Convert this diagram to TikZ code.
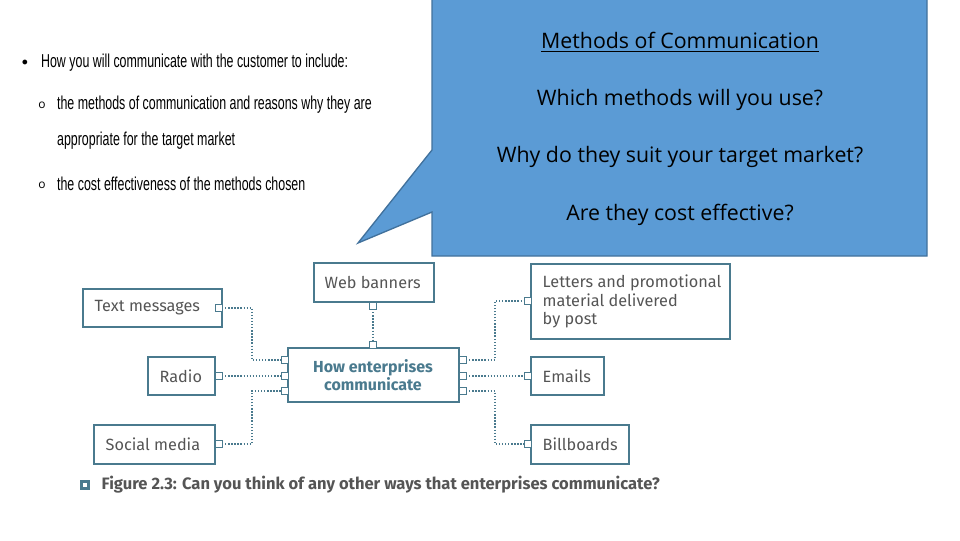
\documentclass[tikz,border=0pt]{standalone}
\usepackage{fontspec}
\setmainfont{Open Sans}
\newfontfamily\figfont{Fira Sans}
\newfontfamily\narrowfont{Liberation Sans}
\begin{document}
\begin{tikzpicture}[x=0.75pt,y=-0.75pt,
  bx/.style={draw=teal1,line width=1.3pt,fill=white},
  lbl/.style={font=\figfont\fontsize{12.2}{14}\selectfont,text=gray1,anchor=west,align=left},
  sq/.style={draw=teal1,line width=0.9pt,fill=white,minimum size=5pt,inner sep=0pt},
  dl/.style={draw=teal1,line width=1pt,dash pattern=on 1pt off 1.3pt},
  bl/.style={font=\narrowfont\fontsize{14}{16}\selectfont,anchor=west,xscale=0.665,transform shape}]
\definecolor{teal1}{HTML}{4A7A8E}
\definecolor{gray1}{HTML}{555555}
\definecolor{callb}{HTML}{5B9BD5}
\definecolor{calld}{HTML}{41719C}
\useasboundingbox (0,0) rectangle (960,540);
% bullet text
\node[font=\small] (b0) at (25,63) {$\bullet$};
\node[bl] (t1) at (38,63) {How you will communicate with the customer to include:};
\node[font=\small] (b1) at (42,105) {o};
\node[bl] (t2) at (54,105) {the methods of communication and reasons why they are};
\node[bl] (t3) at (54,141) {appropriate for the target market};
\node[font=\small] (b2) at (42,185) {o};
\node[bl] (t4) at (54,184) {the cost effectiveness of the methods chosen};
% callout
\draw[fill=callb,draw=calld,line width=1pt] (432,-2) -- (927,-2) -- (927,256) -- (432,256) -- (432,212) -- (358,243) -- (432,150) -- cycle;
\begin{scope}[font=\fontsize{16}{19}\selectfont,text=black]
\node (c1) at (680,42) {\underline{Methods of Communication}};
\node (c2) at (680,100) {Which methods will you use?};
\node (c3) at (680,157) {Why do they suit your target market?};
\node (c4) at (680,215) {Are they cost effective?};
\end{scope}
% boxes
\draw[bx] (314,263) rectangle (434,302); \node[lbl] (wb) at (320,282) {Web banners};
\draw[bx] (83,289) rectangle (222,327); \node[lbl] (tm) at (90,308) {Text messages};
\draw[bx] (148,357) rectangle (215,395); \node[lbl] (ra) at (155,376) {Radio};
\draw[bx] (94,425) rectangle (215,464); \node[lbl] (sm) at (101,444) {Social media};
\draw[bx] (288,348) rectangle (459,402);
\node[font=\figfont\bfseries\fontsize{12}{14}\selectfont,text=teal1,align=center] (ce) at (373,375) {How enterprises\\communicate};
\draw[bx] (531,264) rectangle (730,339);
\node[lbl,anchor=north west,font=\figfont\fontsize{12.2}{14}\selectfont] (le) at (538,270) {Letters and promotional\\material delivered\\by post};
\draw[bx] (531,357) rectangle (604,395); \node[lbl] (em) at (538,376) {Emails};
\draw[bx] (531,425) rectangle (629,464); \node[lbl] (bb) at (538,444) {Billboards};
% connectors
\coordinate (l1) at (219,308); \coordinate (l2) at (219,376); \coordinate (l3) at (219,444);
\coordinate (c1l) at (285,360); \coordinate (c2l) at (285,376); \coordinate (c3l) at (285,391);
\coordinate (c1r) at (463,360); \coordinate (c2r) at (463,376); \coordinate (c3r) at (463,391);
\coordinate (r1) at (528,301); \coordinate (r2) at (528,376); \coordinate (r3) at (528,444);
\coordinate (wt) at (373,306); \coordinate (cb) at (373,345);
\draw[dl] (l1) -| (252,360) -- (c1l);
\draw[dl] (l2) -- (c2l);
\draw[dl] (l3) -| (252,391) -- (c3l);
\draw[dl] (c1r) -| (495,301) -- (r1);
\draw[dl] (c2r) -- (r2);
\draw[dl] (c3r) -| (495,444) -- (r3);
\draw[dl] (wt) -- (cb);
\foreach \p in {l1,l2,l3,c1l,c2l,c3l,c1r,c2r,c3r,r1,r2,r3,wt,cb} \node[sq] at (\p) {};
% caption
\node[fill=teal1,minimum size=8pt,inner sep=0pt] (cm) at (85,485) {};
\node[fill=white,minimum size=3.5pt,inner sep=0pt] at (cm) {};
\node[font=\figfont\bfseries\fontsize{12.4}{14}\selectfont,text=gray1,anchor=west] (cap) at (97,485) {Figure 2.3: Can you think of any other ways that enterprises communicate?};
\end{tikzpicture}
\end{document}
